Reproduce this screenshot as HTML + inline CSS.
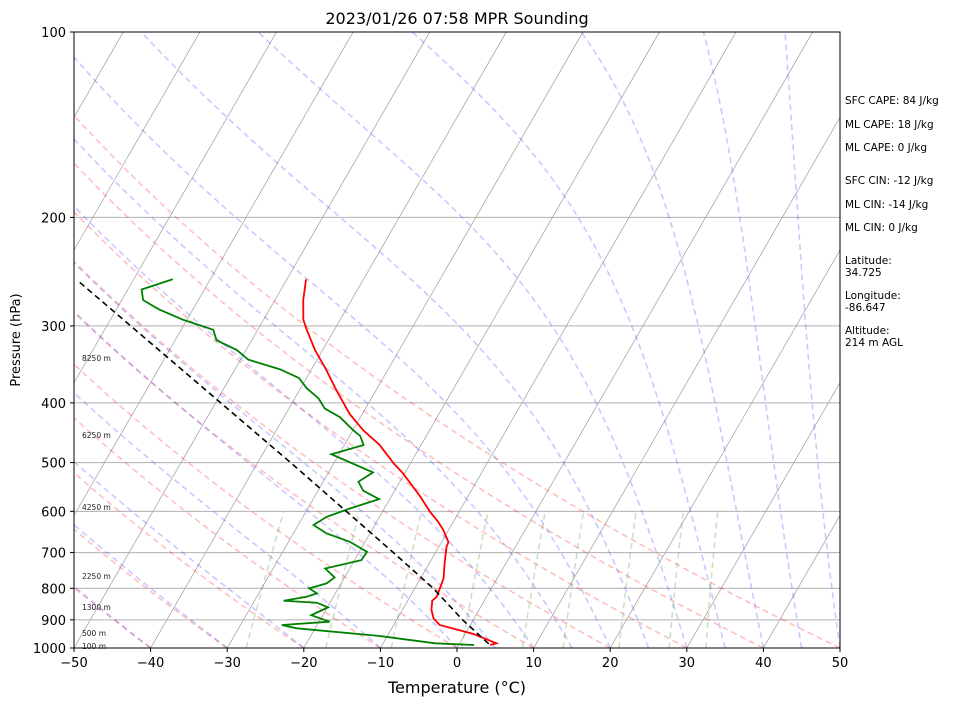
<!DOCTYPE html>
<html><head><meta charset="utf-8"><style>
body{margin:0;background:#fff}
svg text{font-family:"DejaVu Sans","Liberation Sans",sans-serif}
</style></head><body>
<svg id="c" width="953" height="705" xmlns="http://www.w3.org/2000/svg">
<defs><clipPath id="clip"><rect x="74" y="32" width="766" height="616"/></clipPath></defs>
<rect width="953" height="705" fill="#fff"/>
<g id="bg" clip-path="url(#clip)"></g>
<g id="prof" clip-path="url(#clip)"></g>
<rect x="74" y="32" width="766" height="616" fill="none" stroke="#000" stroke-width="1"/>
<g id="ax"></g>
<text x="457" y="24" font-size="16" text-anchor="middle">2023/01/26 07:58 MPR Sounding</text>
<text x="457" y="693" font-size="16" text-anchor="middle">Temperature (°C)</text>
<text transform="translate(20,340) rotate(-90)" font-size="13" text-anchor="middle">Pressure (hPa)</text>
<g font-size="10.5">
<text x="845" y="104">SFC CAPE: 84 J/kg</text>
<text x="845" y="128">ML CAPE: 18 J/kg</text>
<text x="845" y="151">ML CAPE: 0 J/kg</text>
<text x="845" y="184">SFC CIN: -12 J/kg</text>
<text x="845" y="208">ML CIN: -14 J/kg</text>
<text x="845" y="231">ML CIN: 0 J/kg</text>
<text x="845" y="264">Latitude:</text><text x="845" y="276">34.725</text>
<text x="845" y="299">Longitude:</text><text x="845" y="311">-86.647</text>
<text x="845" y="334">Altitude:</text><text x="845" y="346">214 m AGL</text>
</g>
</svg>
<script>
const tempP=[988.8,982.6,949.0,917.6,895.0,867.5,838.0,825.6,803.1,770.8,728.9,684.8,673.0,643.0,623.6,600.9,567.9,520.7,501.3,468.2,442.8,416.5,381.3,353.9,328.3,304.4,293.2,272.4,252.0];
const tempT=[4.1,4.8,1.1,-4.0,-5.3,-6.2,-6.8,-6.5,-6.7,-7.0,-8.0,-9.0,-9.1,-10.7,-12.0,-13.8,-16.2,-20.2,-22.2,-25.4,-28.7,-31.7,-35.2,-38.0,-41.0,-43.6,-44.8,-46.3,-47.5];
const dewP=[988.8,982.6,956.1,929.0,917.6,906.4,884.5,859.1,844.3,838.0,825.6,815.3,800.1,785.4,768.1,742.9,719.9,698.0,672.3,651.4,631.4,612.3,593.7,573.2,555.4,537.2,518.8,484.7,468.2,452.9,442.8,421.8,408.6,393.3,378.7,364.4,352.9,340.3,328.3,316.5,304.4,293.2,281.8,272.4,261.8,252.0];
const dewT=[2.0,-3.2,-11.0,-22.4,-24.6,-18.6,-21.5,-19.9,-21.7,-26.2,-23.5,-22.4,-23.8,-21.9,-21.3,-23.2,-19.1,-19.0,-22.0,-25.7,-28.0,-26.9,-24.5,-21.4,-24.1,-25.4,-24.2,-31.0,-27.5,-28.6,-30.0,-32.7,-35.3,-36.9,-39.2,-41.0,-44.1,-49.0,-51.2,-54.6,-55.8,-60.5,-64.5,-67.2,-68.2,-64.9];
const parcelP=[255,500,700,800,900,989];
const parcelT=[-76.8,-35.7,-15.5,-7.6,-1.4,4.1];
const xTicks=[-50,-40,-30,-20,-10,0,10,20,30,40,50];
const pTicks=[100,200,300,400,500,600,700,800,900,1000];
const heightLabels=["8250 m","6250 m","4250 m","2250 m","1300 m","500 m","100 m"];
const heightPx=[358,435,507,576,607,633,646];
const dryT0=[-50,-40,-30,-20,-10,0,10,20,30,40,50];
const moistT0=[-50,-40,-30,-20,-10,0,5,10,15,20,25,30,35,40,45,50];
const mixW=[0.0004,0.001,0.002,0.004,0.007,0.01,0.016,0.024,0.032];

const NS="http://www.w3.org/2000/svg";
function yP(p){return 648-616*Math.log10(1000/p);}
function xT(t,p){return 74+(t+50)*7.66+0.5774*(648-yP(p));}
function mk(tag,parent,attrs){const e=document.createElementNS(NS,tag);for(const k in attrs)e.setAttribute(k,attrs[k]);parent.appendChild(e);return e;}
const bg=document.getElementById('bg'),prof=document.getElementById('prof'),ax=document.getElementById('ax');
function path(parent,pts,stroke,w,dash,name){
  const d=pts.map((q,i)=>(i?'L':'M')+xT(q[1],q[0]).toFixed(2)+' '+yP(q[0]).toFixed(2)).join('');
  const e=mk('path',parent,{d:d,fill:'none',stroke:stroke,'stroke-width':w});
  if(dash)e.setAttribute('stroke-dasharray',dash);
  
  
  return e;
}
pTicks.slice(1,-1).forEach(p=>{
  const l=mk('line',bg,{x1:74,x2:840,y1:yP(p),y2:yP(p),stroke:'#b0b0b0','stroke-width':1});
  
  
});
for(let t=-140;t<=50;t+=10){
  path(bg,[[1000,t],[100,t]],'#a8a8a8',0.8,null,'isotherm');
}
dryT0.forEach(t0=>{
  const th=t0+273.15,pts=[];
  for(let p=1000;p>=100;p-=10)pts.push([p,th*Math.pow(p/1000,0.2857)-273.15]);
  path(bg,pts,'rgba(255,0,0,0.25)',1.6,'6,4','dry-adiabat');
});
function es(tc){return 6.112*Math.exp(17.67*tc/(tc+243.5));}
function dTdp(T,p){const e=es(T-273.15),rs=0.622*e/(p-e),Lv=2.501e6,Rd=287.04,Cp=1005.7;
  return (Rd*T+Lv*rs)/(Cp+Lv*Lv*rs*0.622/(Rd*T*T))/p;}
moistT0.forEach(t0=>{
  let T=t0+273.15,pts=[[1000,t0]];const h=-5;
  for(let p=1000;p>100;p+=h){
    const k1=dTdp(T,p),k2=dTdp(T+h/2*k1,p+h/2),k3=dTdp(T+h/2*k2,p+h/2),k4=dTdp(T+h*k3,p+h);
    T+=h/6*(k1+2*k2+2*k3+k4);pts.push([p+h,T-273.15]);
  }
  path(bg,pts,'rgba(40,40,255,0.25)',1.6,'6,4','moist-adiabat');
});
mixW.forEach(w=>{
  const pts=[];
  for(let p=1000;p>=600;p-=20){const e=w*p/(0.622+w),l=Math.log(e/6.112);pts.push([p,243.5*l/(17.67-l)]);}
  path(bg,pts,'rgba(0,128,0,0.22)',1.6,'6,4','mixing-ratio-line');
});
path(prof,tempP.map((p,i)=>[p,tempT[i]]),'#ff0000',1.8,null,'temperature-line');
path(prof,dewP.map((p,i)=>[p,dewT[i]]),'#008000',1.8,null,'dewpoint-line');
path(prof,parcelP.map((p,i)=>[p,parcelT[i]]),'#000',1.6,'6,4','parcel-profile-line');
heightLabels.forEach((s,i)=>{
  const t=mk('text',ax,{x:82,y:heightPx[i]+3,'font-size':7.5,fill:'#222'});t.textContent=s;
  
  
});
xTicks.forEach(t=>{
  const x=74+(t+50)*7.66;
  mk('line',ax,{x1:x,x2:x,y1:648,y2:652,stroke:'#000'});
  const tx=mk('text',ax,{x:x,y:667,'font-size':13,'text-anchor':'middle'});tx.textContent=String(t).replace('-','\u2212');
  
  
});
pTicks.forEach(p=>{
  const y=yP(p);
  mk('line',ax,{x1:70,x2:74,y1:y,y2:y,stroke:'#000'});
  const tx=mk('text',ax,{x:66,y:y+5,'font-size':13,'text-anchor':'end'});tx.textContent=p;
  
  
});
</script>
</body></html>
